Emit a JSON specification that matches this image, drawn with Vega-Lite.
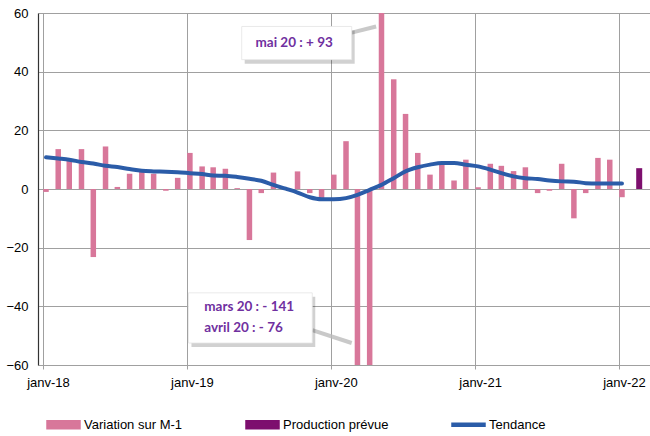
{
  "$schema": "https://vega.github.io/schema/vega-lite/v6.json",
  "width": 612,
  "height": 352,
  "autosize": {"type": "none"},
  "padding": {"left": 38, "top": 13, "right": 0, "bottom": 71},
  "background": "white",
  "config": {
    "view": {"stroke": null},
    "font": "Liberation Sans Narrow, Arial Narrow, Liberation Sans, sans-serif"
  },
  "datasets": {
    "monthly": [
      {"date": "2018-01-01", "variation": -1.0, "tendance": 10.8},
      {"date": "2018-02-01", "variation": 13.6, "tendance": 10.4},
      {"date": "2018-03-01", "variation": 9.7, "tendance": 10.0},
      {"date": "2018-04-01", "variation": 13.6, "tendance": 9.2},
      {"date": "2018-05-01", "variation": -23.2, "tendance": 8.7},
      {"date": "2018-06-01", "variation": 14.5, "tendance": 7.9},
      {"date": "2018-07-01", "variation": 0.7, "tendance": 7.5},
      {"date": "2018-08-01", "variation": 5.2, "tendance": 6.8},
      {"date": "2018-09-01", "variation": 6.2, "tendance": 6.2},
      {"date": "2018-10-01", "variation": 5.2, "tendance": 6.0},
      {"date": "2018-11-01", "variation": -0.6, "tendance": 5.9},
      {"date": "2018-12-01", "variation": 3.8, "tendance": 5.7},
      {"date": "2019-01-01", "variation": 12.3, "tendance": 5.4},
      {"date": "2019-02-01", "variation": 7.7, "tendance": 5.1},
      {"date": "2019-03-01", "variation": 7.4, "tendance": 4.6},
      {"date": "2019-04-01", "variation": 6.9, "tendance": 4.5},
      {"date": "2019-05-01", "variation": 0.3, "tendance": 4.1},
      {"date": "2019-06-01", "variation": -17.4, "tendance": 3.5},
      {"date": "2019-07-01", "variation": -1.4, "tendance": 2.8},
      {"date": "2019-08-01", "variation": 5.6, "tendance": 1.4},
      {"date": "2019-09-01", "variation": 0.0, "tendance": 0.1},
      {"date": "2019-10-01", "variation": 6.0, "tendance": -1.2},
      {"date": "2019-11-01", "variation": -1.4, "tendance": -2.8},
      {"date": "2019-12-01", "variation": -3.7, "tendance": -3.5},
      {"date": "2020-01-01", "variation": 4.9, "tendance": -3.5},
      {"date": "2020-02-01", "variation": 16.3, "tendance": -3.1},
      {"date": "2020-03-01", "variation": -141, "tendance": -2.0},
      {"date": "2020-04-01", "variation": -76, "tendance": -0.3},
      {"date": "2020-05-01", "variation": 93, "tendance": 1.4},
      {"date": "2020-06-01", "variation": 37.4, "tendance": 3.7},
      {"date": "2020-07-01", "variation": 25.6, "tendance": 6.0},
      {"date": "2020-08-01", "variation": 12.3, "tendance": 7.4},
      {"date": "2020-09-01", "variation": 4.9, "tendance": 8.3},
      {"date": "2020-10-01", "variation": 9.2, "tendance": 8.9},
      {"date": "2020-11-01", "variation": 2.9, "tendance": 8.9},
      {"date": "2020-12-01", "variation": 10.0, "tendance": 8.3},
      {"date": "2021-01-01", "variation": 0.6, "tendance": 7.7},
      {"date": "2021-02-01", "variation": 8.6, "tendance": 6.6},
      {"date": "2021-03-01", "variation": 7.9, "tendance": 5.4},
      {"date": "2021-04-01", "variation": 6.1, "tendance": 4.3},
      {"date": "2021-05-01", "variation": 7.4, "tendance": 3.7},
      {"date": "2021-06-01", "variation": -1.4, "tendance": 3.4},
      {"date": "2021-07-01", "variation": -0.6, "tendance": 2.9},
      {"date": "2021-08-01", "variation": 8.6, "tendance": 2.6},
      {"date": "2021-09-01", "variation": -10.0, "tendance": 2.5},
      {"date": "2021-10-01", "variation": -1.4, "tendance": 2.0},
      {"date": "2021-11-01", "variation": 10.6, "tendance": 1.9},
      {"date": "2021-12-01", "variation": 10.0, "tendance": 1.9},
      {"date": "2022-01-01", "variation": -2.8, "tendance": 1.9}
    ],
    "prevue": [
      {"date": "2022-02-01", "value": 7.1}
    ],
    "boxes": [
      {"x": "2019-05-20", "x2": "2020-02-23", "y": 55.4, "y2": 44.1},
      {"x": "2019-01-05", "x2": "2019-11-15", "y": -35.4, "y2": -52.5}
    ],
    "pointers": [
      {"x": "2020-02-23", "y": 53.3, "x2": "2020-04-25", "y2": 55.4},
      {"x": "2019-11-15", "y": -48.1, "x2": "2020-02-23", "y2": -52.5}
    ],
    "notes": [
      {"date": "2019-06-24", "value": 49.8, "label": "mai 20 : + 93"},
      {"date": "2019-02-14", "value": -40.2, "label": "mars 20 : - 141"},
      {"date": "2019-02-14", "value": -47.4, "label": "avril 20  : - 76"}
    ]
  },
  "layer": [
    {
      "data": {"name": "monthly"},
      "mark": {"type": "bar", "width": 5.5, "xOffset": 3, "clip": true},
      "encoding": {
        "x": {
          "field": "date", "type": "temporal",
          "scale": {"domain": [{"year": 2018, "month": 1, "date": 1}, {"year": 2022, "month": 3, "date": 8}]},
          "axis": {
            "title": null,
            "tickCount": {"interval": "year", "step": 1},
            "labelExpr": "'janv-' + timeFormat(datum.value, '%y')",
            "domain": false,
            "grid": true, "gridColor": "#A0A0A0", "gridOpacity": 1, "gridWidth": 1,
            "ticks": true, "tickColor": "#A0A0A0", "tickSize": 4,
            "labelFontSize": 13, "labelColor": "#000", "labelPadding": 7, "labelOffset": 5,
            "labelFlush": false
          }
        },
        "y": {
          "field": "variation", "type": "quantitative",
          "scale": {"domain": [-60, 60], "nice": false},
          "axis": {
            "title": null,
            "values": [-60, -40, -20, 0, 20, 40, 60],
            "grid": true, "gridColor": "#A0A0A0", "gridOpacity": 1,
            "ticks": false, "domain": true, "domainColor": "#333", "domainWidth": 1.2,
            "labelFontSize": 13, "labelColor": "#000", "labelPadding": 10
          }
        },
        "color": {
          "datum": "Variation sur M-1",
          "scale": {"domain": ["Variation sur M-1", "Production prévue", "Tendance"], "range": ["#D8779A", "#7D0F6E", "#2B5CA8"]},
          "legend": {
            "title": null,
            "orient": "none", "legendX": 8, "legendY": 394,
            "direction": "horizontal",
            "columnPadding": 60,
            "padding": 0,
            "symbolSize": 1089,
            "symbolType": "M-1,-0.24H1V0.24H-1Z",
            "labelFontSize": 13, "labelColor": "#000", "labelOffset": 3,
            "encode": {
              "symbols": {
                "update": {
                  "shape": {"signal": "datum.value === 'Tendance' ? 'M-1,-0.09H1V0.09H-1Z' : 'M-1,-0.24H1V0.24H-1Z'"},
                  "fill": {"signal": "scale('color', datum.value)"},
                  "stroke": {"value": "transparent"},
                  "opacity": {"value": 1},
                  "fillOpacity": {"value": 1}
                }
              }
            }
          }
        }
      }
    },
    {
      "data": {"name": "prevue"},
      "mark": {"type": "bar", "width": 6, "xOffset": 8, "clip": true},
      "encoding": {
        "x": {"field": "date", "type": "temporal"},
        "y": {"field": "value", "type": "quantitative"},
        "color": {"datum": "Production prévue"}
      }
    },
    {
      "mark": {"type": "rule", "color": "#000", "strokeWidth": 1},
      "encoding": {"y": {"datum": 0}}
    },
    {
      "data": {"name": "monthly"},
      "mark": {"type": "line", "strokeWidth": 4, "xOffset": 3, "interpolate": "monotone", "strokeCap": "round"},
      "encoding": {
        "x": {"field": "date", "type": "temporal"},
        "y": {"field": "tendance", "type": "quantitative"},
        "color": {"datum": "Tendance"}
      }
    },
    {
      "data": {"name": "pointers"},
      "mark": {"type": "rule", "color": "#BBBBBB", "strokeWidth": 4, "opacity": 0.8},
      "encoding": {
        "x": {"field": "x", "type": "temporal"},
        "x2": {"field": "x2"},
        "y": {"field": "y", "type": "quantitative"},
        "y2": {"field": "y2"}
      }
    },
    {
      "data": {"name": "boxes"},
      "mark": {"type": "rect", "fill": "#000", "opacity": 0.18, "xOffset": 3, "x2Offset": 3, "yOffset": 4, "y2Offset": 4},
      "encoding": {
        "x": {"field": "x", "type": "temporal"},
        "x2": {"field": "x2"},
        "y": {"field": "y", "type": "quantitative"},
        "y2": {"field": "y2"}
      }
    },
    {
      "data": {"name": "boxes"},
      "mark": {"type": "rect", "fill": "#FFFFFF", "stroke": "#E4E4E4", "strokeWidth": 0.8},
      "encoding": {
        "x": {"field": "x", "type": "temporal"},
        "x2": {"field": "x2"},
        "y": {"field": "y", "type": "quantitative"},
        "y2": {"field": "y2"}
      }
    },
    {
      "data": {"name": "notes"},
      "mark": {"type": "text", "font": "Lato", "fontWeight": "bold", "fontSize": 13.5, "color": "#7030A0", "baseline": "middle", "align": "left"},
      "encoding": {
        "x": {"field": "date", "type": "temporal"},
        "y": {"field": "value", "type": "quantitative"},
        "text": {"field": "label"}
      }
    }
  ]
}
